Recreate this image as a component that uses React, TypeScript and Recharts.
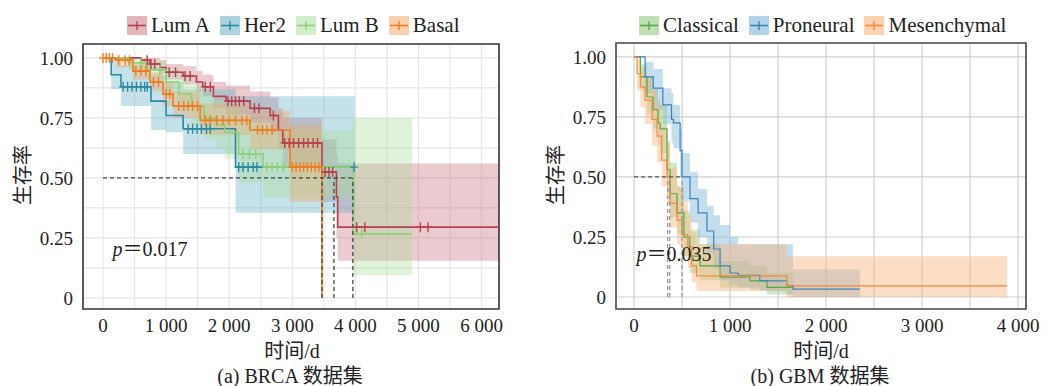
import React from 'react';
import {
  ComposedChart, XAxis, YAxis, CartesianGrid, Area, Line, Scatter,
  ReferenceLine, ReferenceArea,
} from 'recharts';

// ---------------------------------------------------------------------------
// BRCA data (time in days, survival probability, CI bounds)
// ---------------------------------------------------------------------------

const LUMA_T = [0, 600, 745, 900, 1000, 1270, 1480, 1580, 1750, 1950, 2330, 2650, 2780, 2850, 3470, 3700, 3720, 6290];
const LUMA_S = [1, 0.99, 0.975, 0.96, 0.94, 0.925, 0.9, 0.88, 0.84, 0.82, 0.79, 0.76, 0.7, 0.646, 0.525, 0.42, 0.295, 0.295];
const LUMA_LO = [1, 0.97, 0.95, 0.935, 0.91, 0.89, 0.86, 0.84, 0.79, 0.765, 0.73, 0.69, 0.62, 0.55, 0.4, 0.25, 0.155, 0.155];
const LUMA_HI = [1, 1, 1, 0.99, 0.975, 0.965, 0.945, 0.93, 0.9, 0.885, 0.86, 0.835, 0.79, 0.75, 0.66, 0.6, 0.56, 0.56];
const LUMA_MARKS = [700, 760, 820, 1050, 1150, 1300, 1380, 1620, 1700, 1980, 2040, 2100, 2160, 2230, 2400, 2470, 2700, 2880, 2950, 3020, 3100, 3180, 3250, 3330, 3400, 3520, 3580, 3640, 4020, 4150, 5030, 5150];

const HER2_T = [0, 130, 285, 760, 1000, 1270, 2100, 3990];
const HER2_S = [1, 0.93, 0.88, 0.82, 0.76, 0.705, 0.545, 0.545];
const HER2_LO = [1, 0.87, 0.8, 0.7, 0.69, 0.6, 0.355, 0.355];
const HER2_HI = [1, 1, 0.97, 0.93, 0.9, 0.87, 0.84, 0.84];
const HER2_MARKS = [320, 390, 460, 530, 600, 660, 700, 1350, 1420, 1490, 1560, 1640, 1700, 2150, 2220, 2300, 2380, 2440, 3980];

const LUMB_T = [0, 400, 700, 1000, 1200, 1400, 1600, 1800, 1930, 2150, 2540, 3960, 4900];
const LUMB_S = [1, 0.98, 0.95, 0.9, 0.85, 0.8, 0.75, 0.72, 0.69, 0.6, 0.545, 0.267, 0.267];
const LUMB_LO = [1, 0.95, 0.91, 0.85, 0.78, 0.72, 0.66, 0.62, 0.58, 0.48, 0.42, 0.095, 0.095];
const LUMB_HI = [1, 1, 0.99, 0.96, 0.93, 0.89, 0.85, 0.82, 0.8, 0.74, 0.7, 0.75, 0.75];
const LUMB_MARKS = [600, 900, 2220, 2320, 2420, 2600, 2680, 2760, 2860, 4100];

const BASAL_T = [0, 206, 475, 745, 950, 1110, 1540, 2330, 2965, 3470];
const BASAL_S = [1, 0.99, 0.945, 0.9, 0.85, 0.8, 0.74, 0.7, 0.545, 0];
const BASAL_LO = [1, 0.96, 0.91, 0.86, 0.8, 0.75, 0.68, 0.62, 0.4, 0];
const BASAL_HI = [1, 1, 0.98, 0.94, 0.9, 0.86, 0.81, 0.78, 0.72, 0];
const BASAL_MARKS = [0, 50, 100, 150, 250, 350, 420, 520, 600, 680, 800, 880, 1000, 1060, 1200, 1280, 1350, 1420, 1500, 1620, 1700, 1800, 1900, 2000, 2100, 2200, 2280, 2450, 2530, 2600, 2680, 3000, 3060, 3120, 3180, 3240, 3300, 3360, 3420];

const BRCA_X_TICKS = [0, 1000, 2000, 3000, 4000, 5000, 6000];
const BRCA_X_GRID = [0, 500, 1000, 1500, 2000, 2500, 3000, 3500, 4000, 4500, 5000, 5500, 6000];
const BRCA_Y_GRID = [0, 0.125, 0.25, 0.375, 0.5, 0.625, 0.75, 0.875, 1];
const BRCA_MEDIANS = [3470, 3660, 3960];

// ---------------------------------------------------------------------------
// GBM data
// ---------------------------------------------------------------------------

const CLAS_T = [0, 66, 135, 198, 250, 271, 344, 375, 448, 520, 580, 688, 896, 1208, 1385, 1660];
const CLAS_S = [1, 0.917, 0.833, 0.78, 0.725, 0.7, 0.53, 0.43, 0.35, 0.25, 0.17, 0.13, 0.083, 0.067, 0.04, 0.04];
const CLAS_LO = [1, 0.86, 0.76, 0.7, 0.63, 0.6, 0.43, 0.33, 0.26, 0.17, 0.1, 0.07, 0.04, 0.03, 0.01, 0.01];
const CLAS_HI = [1, 0.97, 0.92, 0.87, 0.82, 0.8, 0.65, 0.56, 0.46, 0.36, 0.28, 0.22, 0.15, 0.13, 0.1, 0.1];

const PRON_T = [0, 115, 200, 300, 390, 410, 480, 500, 583, 667, 760, 830, 896, 1000, 1085, 1310, 1590, 1656, 2354];
const PRON_S = [1, 0.917, 0.87, 0.8, 0.74, 0.725, 0.61, 0.5, 0.41, 0.35, 0.275, 0.2, 0.13, 0.1, 0.09, 0.067, 0.047, 0.033, 0.033];
const PRON_LO = [1, 0.85, 0.78, 0.72, 0.64, 0.62, 0.5, 0.4, 0.31, 0.25, 0.18, 0.12, 0.07, 0.05, 0.04, 0.025, 0.01, 0, 0];
const PRON_HI = [1, 0.98, 0.95, 0.87, 0.85, 0.8, 0.7, 0.6, 0.52, 0.45, 0.38, 0.34, 0.3, 0.25, 0.22, 0.22, 0.22, 0.115, 0.115];

const MES_T = [0, 31, 66, 115, 188, 240, 288, 344, 375, 448, 500, 560, 600, 650, 1590, 3885];
const MES_S = [1, 0.93, 0.875, 0.82, 0.74, 0.67, 0.57, 0.5, 0.39, 0.32, 0.26, 0.21, 0.13, 0.088, 0.046, 0.046];
const MES_LO = [1, 0.86, 0.79, 0.72, 0.63, 0.56, 0.46, 0.39, 0.29, 0.22, 0.17, 0.12, 0.06, 0.025, 0, 0];
const MES_HI = [1, 0.99, 0.96, 0.92, 0.86, 0.8, 0.71, 0.64, 0.54, 0.46, 0.4, 0.34, 0.27, 0.22, 0.17, 0.17];

const GBM_X_TICKS = [0, 1000, 2000, 3000, 4000];
const GBM_X_GRID = [0, 500, 1000, 1500, 2000, 2500, 3000, 3500, 4000];
const GBM_Y_GRID = [0, 0.25, 0.5, 0.75, 1];
const GBM_MEDIANS = [350, 372, 500];

const Y_TICKS = [0, 0.25, 0.5, 0.75, 1];

// ---------------------------------------------------------------------------

type Series = {
  key: string; name: string;
  t: number[]; s: number[]; lo: number[]; hi: number[];
  marks?: number[];
  line: string; band: string; bandOpacity: number;
};

const brcaSeries: Series[] = [
  { key: 'lumA', name: 'Lum A', t: LUMA_T, s: LUMA_S, lo: LUMA_LO, hi: LUMA_HI, marks: LUMA_MARKS, line: '#b5414f', band: '#c96b78', bandOpacity: 0.35 },
  { key: 'her2', name: 'Her2', t: HER2_T, s: HER2_S, lo: HER2_LO, hi: HER2_HI, marks: HER2_MARKS, line: '#2a8aa0', band: '#5aa9c0', bandOpacity: 0.35 },
  { key: 'lumB', name: 'Lum B', t: LUMB_T, s: LUMB_S, lo: LUMB_LO, hi: LUMB_HI, marks: LUMB_MARKS, line: '#8fd07a', band: '#a6dc94', bandOpacity: 0.35 },
  { key: 'basal', name: 'Basal', t: BASAL_T, s: BASAL_S, lo: BASAL_LO, hi: BASAL_HI, marks: BASAL_MARKS, line: '#f07d22', band: '#f4a460', bandOpacity: 0.35 },
];

const gbmSeries: Series[] = [
  { key: 'clas', name: 'Classical', t: CLAS_T, s: CLAS_S, lo: CLAS_LO, hi: CLAS_HI, line: '#55a848', band: '#94cc84', bandOpacity: 0.45 },
  { key: 'pron', name: 'Proneural', t: PRON_T, s: PRON_S, lo: PRON_LO, hi: PRON_HI, line: '#3a85b8', band: '#7fb6d8', bandOpacity: 0.45 },
  { key: 'mes', name: 'Mesenchymal', t: MES_T, s: MES_S, lo: MES_LO, hi: MES_HI, line: '#f08a3c', band: '#f9b47f', bandOpacity: 0.45 },
];

const stepIndex = (ts: number[], t: number) => {
  let i = 0;
  while (i + 1 < ts.length && ts[i + 1] <= t) i++;
  return i;
};

function buildTable(series: Series[]) {
  const times = Array.from(new Set(series.flatMap((s) => s.t))).sort((a, b) => a - b);
  return times.map((t) => {
    const row: any = { t };
    series.forEach((sr) => {
      if (t <= sr.t[sr.t.length - 1]) {
        const i = stepIndex(sr.t, t);
        row[sr.key] = sr.s[i];
        row[sr.key + 'Band'] = [sr.lo[i], sr.hi[i]];
      }
    });
    return row;
  });
}

const FONT = '"Liberation Serif", "Noto Sans CJK SC", serif';

const fmtX = (v: number) => (v === 0 ? '0' : `${v / 1000} 000`);
const fmtY = (v: number) => (v === 0 ? '0' : v.toFixed(2));

// custom ticks so the serif font is really applied inside the svg
const XTick: React.FC<any> = ({ x, y, payload }) => (
  <text x={x} y={y} dy="0.71em" textAnchor="middle" fill="#222" style={{ fontFamily: FONT, fontSize: 19 }}>
    {fmtX(payload.value)}
  </text>
);
const YTick: React.FC<any> = ({ x, y, payload }) => (
  <text x={x} y={y} dy="0.355em" textAnchor="end" fill="#222" style={{ fontFamily: FONT, fontSize: 19 }}>
    {fmtY(payload.value)}
  </text>
);

const Cross: React.FC<any> = ({ cx, cy, fill }) => (
  <path d={`M${cx - 4},${cy}h8M${cx},${cy - 5}v10`} stroke={fill} strokeWidth={1.4} />
);

interface KMProps {
  series: Series[];
  width: number;
  height: number;
  margin: { top: number; right: number; bottom: number; left: number };
  xDomain: [number, number];
  yDomain: [number, number];
  xTicks: number[];
  xGrid: number[];
  yGrid: number[];
  gridColor: string;
  frameColor: string;
  medianEnd: number;
  medians: number[];
  hColor: string;
  vColor: string;
  lineWidth: number;
}

const KMChart: React.FC<KMProps> = (p) => {
  const table = buildTable(p.series);
  return (
    <ComposedChart width={p.width} height={p.height} data={table} margin={p.margin}>
      <CartesianGrid
        stroke={p.gridColor}
        strokeWidth={1.2}
        verticalValues={p.xGrid}
        horizontalValues={p.yGrid}
      />
      <XAxis
        type="number" dataKey="t" domain={p.xDomain} allowDataOverflow
        ticks={p.xTicks} interval={0}
        axisLine={false} tickLine={false} tickSize={6} tickMargin={4} height={30}
        tick={<XTick />}
      />
      <YAxis
        type="number" domain={p.yDomain} allowDataOverflow
        ticks={Y_TICKS} interval={0}
        axisLine={false} tickLine={false} tickSize={6} tickMargin={4} width={60}
        tick={<YTick />}
      />
      {p.series.map((s) => (
        <Area
          key={s.key + 'Band'} dataKey={s.key + 'Band'} type="stepAfter"
          fill={s.band} fillOpacity={s.bandOpacity} stroke="none"
          isAnimationActive={false} activeDot={false}
        />
      ))}
      {p.series.map((s) => (
        <Line
          key={s.key} dataKey={s.key} type="stepAfter" stroke={s.line}
          strokeWidth={p.lineWidth} dot={false} activeDot={false}
          isAnimationActive={false}
        />
      ))}
      {p.series.filter((s) => s.marks).map((s) => (
        <Scatter
          key={s.key + 'Marks'}
          data={s.marks!.map((t) => ({ t, s: s.s[stepIndex(s.t, t)] }))}
          dataKey="s" fill={s.line} shape={<Cross />}
          isAnimationActive={false}
        />
      ))}
      <ReferenceLine
        segment={[{ x: 0, y: 0.5 }, { x: p.medianEnd, y: 0.5 }]}
        stroke={p.hColor} strokeDasharray="4 3" strokeWidth={1.3}
      />
      {p.medians.map((m) => (
        <ReferenceLine
          key={m}
          segment={[{ x: m, y: 0 }, { x: m, y: 0.5 }]}
          stroke={p.vColor} strokeDasharray="4 3" strokeWidth={1.3}
        />
      ))}
      <ReferenceArea
        x1={p.xDomain[0]} x2={p.xDomain[1]} y1={p.yDomain[0]} y2={p.yDomain[1]}
        fill="none" stroke={p.frameColor} strokeWidth={1.6}
      />
    </ComposedChart>
  );
};

const LegendRow: React.FC<{ series: Series[]; left: number; top: number }> = ({ series, left, top }) => (
  <div style={{ position: 'absolute', left, top, display: 'flex', alignItems: 'center', fontFamily: FONT, fontSize: 21, color: '#222', lineHeight: 1, whiteSpace: 'nowrap' }}>
    {series.map((s) => (
      <div key={s.key} style={{ display: 'flex', alignItems: 'center', marginRight: 10 }}>
        <svg width={20} height={19} style={{ marginRight: 4 }}>
          <rect x={0} y={0} width={20} height={19} fill={s.band} fillOpacity={s.bandOpacity + 0.15} />
          <line x1={1} y1={9.5} x2={19} y2={9.5} stroke={s.line} strokeWidth={1.6} />
          <line x1={10} y1={5} x2={10} y2={14} stroke={s.line} strokeWidth={1.4} />
        </svg>
        <span>{s.name}</span>
      </div>
    ))}
  </div>
);

const Label: React.FC<{ x: number; y: number; rotate?: boolean; children: React.ReactNode }> = ({ x, y, rotate, children }) => (
  <div
    style={{
      position: 'absolute', left: x, top: y, fontFamily: FONT, fontSize: 20, color: '#222',
      lineHeight: 1, whiteSpace: 'nowrap',
      transform: `translate(-50%, -50%)${rotate ? ' rotate(-90deg)' : ''}`,
    }}
  >
    {children}
  </div>
);

export default function App() {
  return (
    <div style={{ position: 'absolute', left: 0, top: 0, width: 1050, height: 386, background: '#fff', overflow: 'hidden', fontFamily: FONT }}>
      <div style={{ position: 'absolute', left: 0, top: 0 }}>
        <KMChart
          series={brcaSeries} width={520} height={386}
          margin={{ top: 44, right: 21, bottom: 47, left: 23 }}
          xDomain={[-317, 6276]} yDomain={[-0.046, 1.058]}
          xTicks={BRCA_X_TICKS} xGrid={BRCA_X_GRID} yGrid={BRCA_Y_GRID}
          gridColor="#e6e6e6" frameColor="#333"
          medianEnd={3960} medians={BRCA_MEDIANS}
          hColor="#444" vColor="#444" lineWidth={1.6}
        />
      </div>
      <div style={{ position: 'absolute', left: 520, top: 0 }}>
        <KMChart
          series={gbmSeries} width={530} height={386}
          margin={{ top: 43, right: 24, bottom: 47, left: 36 }}
          xDomain={[-188, 4083]} yDomain={[-0.05, 1.058]}
          xTicks={GBM_X_TICKS} xGrid={GBM_X_GRID} yGrid={GBM_Y_GRID}
          gridColor="#cfcfcf" frameColor="#444"
          medianEnd={500} medians={GBM_MEDIANS}
          hColor="#555" vColor="#999" lineWidth={1.2}
        />
      </div>

      <LegendRow series={brcaSeries} left={127} top={15} />
      <LegendRow series={gbmSeries} left={639} top={15} />

      <Label x={23} y={175} rotate>生存率</Label>
      <Label x={556} y={175} rotate>生存率</Label>

      <Label x={150} y={249}><i>p</i>＝0.017</Label>
      <Label x={674} y={254}><i>p</i>＝0.035</Label>

      <Label x={292} y={351}>时间/d</Label>
      <Label x={821} y={351}>时间/d</Label>
      <Label x={290} y={376}>(a) BRCA 数据集</Label>
      <Label x={820} y={376}>(b) GBM 数据集</Label>
    </div>
  );
}
